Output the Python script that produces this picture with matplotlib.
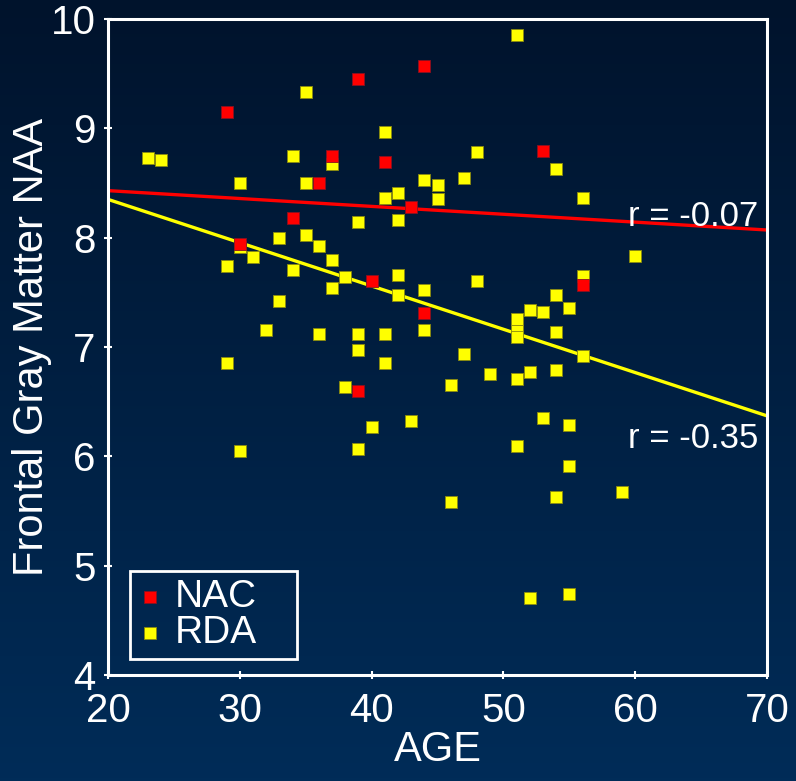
import matplotlib
matplotlib.use("Agg")
import matplotlib.pyplot as plt
import numpy as np
from matplotlib.colors import LinearSegmentedColormap

# NAC group (red)
nac_age = [29, 39, 44, 37, 41, 36, 53, 34, 43, 30, 40, 56, 44, 39]
nac_naa = [9.15, 9.45, 9.57, 8.75, 8.69, 8.50, 8.79, 8.18, 8.28, 7.94,
           7.60, 7.57, 7.31, 6.60]

# RDA group (yellow)
rda_age = [23, 24, 35, 41, 34, 37, 30, 35, 44, 45, 45, 41, 42, 39, 42,
           33, 35, 36, 30, 31, 37, 29, 34, 38, 37, 42, 42, 44, 33, 32,
           36, 39, 41, 44, 39, 29, 41, 38, 40, 43, 39, 30, 51, 48, 54,
           47, 56, 60, 48, 56, 54, 52, 53, 55, 51, 51, 51, 54, 56, 47,
           49, 51, 52, 54, 46, 53, 55, 51, 55, 46, 54, 59, 52, 55]
rda_naa = [8.73, 8.71, 9.33, 8.97, 8.75, 8.67, 8.50, 8.50, 8.53, 8.48,
           8.35, 8.36, 8.41, 8.14, 8.16, 8.00, 8.02, 7.92, 7.91, 7.82,
           7.80, 7.74, 7.70, 7.64, 7.54, 7.66, 7.48, 7.52, 7.42, 7.16,
           7.12, 7.12, 7.12, 7.16, 6.97, 6.85, 6.85, 6.63, 6.27, 6.32,
           6.07, 6.05, 9.85, 8.78, 8.63, 8.55, 8.36, 7.83, 7.60, 7.65,
           7.48, 7.34, 7.32, 7.36, 7.26, 7.15, 7.09, 7.14, 6.92, 6.94,
           6.75, 6.71, 6.77, 6.79, 6.65, 6.35, 6.29, 6.09, 5.91, 5.58,
           5.63, 5.67, 4.70, 4.74]

# regression lines, read at the axis ends
fit_age = [20, 70]
nac_fit = [8.43, 8.07]
rda_fit = [8.35, 6.37]

fig = plt.figure(figsize=(7.96, 7.81), dpi=100)

# background gradient
bg = fig.add_axes([0, 0, 1, 1])
cmap = LinearSegmentedColormap.from_list("navy", ["#002c58", "#00132c"])
grad = np.linspace(0, 1, 256).reshape(-1, 1)
bg.imshow(grad, aspect="auto", cmap=cmap, extent=[0, 1, 0, 1], origin="lower")
bg.axis("off")

ax = fig.add_axes([0.1357, 0.1357, 0.828, 0.840])
ax.patch.set_alpha(0)

ax.plot(fit_age, nac_fit, color="#ff0000", lw=2.4, zorder=2)
ax.plot(fit_age, rda_fit, color="#ffff00", lw=2.4, zorder=2)
ax.scatter(rda_age, rda_naa, marker="s", s=80, color="#ffff00",
           edgecolors="#8a8a10", linewidths=0.6, label="RDA", zorder=3)
ax.scatter(nac_age, nac_naa, marker="s", s=80, color="#ff0000",
           edgecolors="#8a1020", linewidths=0.6, label="NAC", zorder=4)

ax.text(69.3, 8.11, "r = -0.07", color="white", fontsize=25,
        ha="right", va="baseline", family="Liberation Sans")
ax.text(69.3, 6.08, "r = -0.35", color="white", fontsize=25,
        ha="right", va="baseline", family="Liberation Sans")

ax.set_xlim(20, 70)
ax.set_ylim(4, 10)
ax.set_xticks(range(20, 71, 10))
ax.set_yticks(range(4, 11))
for sp in ax.spines.values():
    sp.set_color("white")
    sp.set_linewidth(2.2)
ax.tick_params(colors="white", direction="inout", length=6, width=1.5,
               labelsize=29, pad=6)
ax.tick_params(axis="x", pad=9)
for lab in ax.get_xticklabels() + ax.get_yticklabels():
    lab.set_family("Liberation Sans")

ax.set_xlabel("AGE", color="white", fontsize=30, family="Liberation Sans",
              labelpad=0)
ax.set_ylabel("Frontal Gray Matter NAA", color="white", fontsize=30,
              family="Liberation Sans", labelpad=-1)

handles, labels = ax.get_legend_handles_labels()
leg = ax.legend(handles[::-1], labels[::-1], loc="lower left",
                bbox_to_anchor=(0.0334, 0.0244, 0.2534, 0.14),
                mode="expand", borderaxespad=0,
                fancybox=False, frameon=True, framealpha=1,
                prop={"family": "Liberation Sans", "size": 28},
                handlelength=0.65, handletextpad=0.3, borderpad=0.2,
                labelspacing=0.0, markerscale=0.9)
leg.get_frame().set_facecolor("none")
leg.get_frame().set_edgecolor("white")
leg.get_frame().set_linewidth(2.0)
for t in leg.get_texts():
    t.set_color("white")

fig.savefig("out.png", dpi=100)
